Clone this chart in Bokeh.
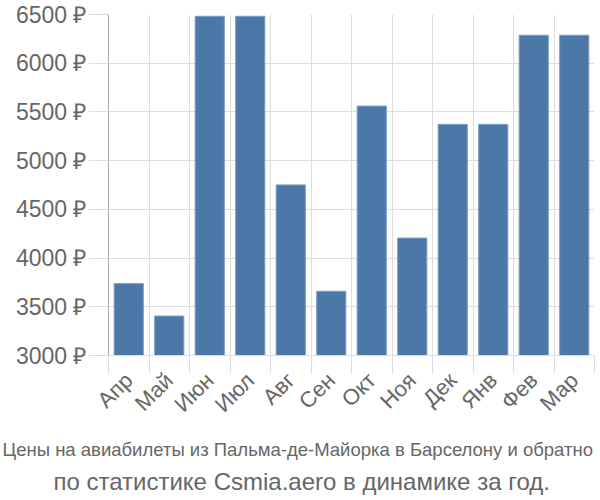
import numpy as np
from math import pi
from bokeh.plotting import figure
from bokeh.models import Range1d, FixedTicker, PrintfTickFormatter, Title
from bokeh.embed import file_html
from bokeh.resources import INLINE

months = ["Апр", "Май", "Июн", "Июл", "Авг", "Сен", "Окт", "Ноя", "Дек", "Янв", "Фев", "Мар"]
prices = [3738, 3405, 6482, 6482, 4751, 3659, 5560, 4205, 5372, 5372, 6287, 6287]
y_ticks = [3000, 3500, 4000, 4500, 5000, 5500, 6000, 6500]
title_line1 = "Цены на авиабилеты из Пальма-де-Майорка в Барселону и обратно"
title_line2 = "по статистике Csmia.aero в динамике за год."

TEXT = "#666666"
GRID = "#dddddd"
BAR = "#4c78a8"

n = len(months)
centers = list(np.arange(n) + 0.5)
bounds = list(np.arange(n + 1).astype(float))

p = figure(width=600, height=500, output_backend="svg", toolbar_location=None,
           x_range=Range1d(0, n), y_range=Range1d(3000, 6500),
           min_border_left=108, min_border_right=6, min_border_top=14, min_border_bottom=145)
p.outline_line_color = None
p.background_fill_color = "white"

p.vbar(x=centers, top=prices, bottom=3000, width=0.72,
       fill_color=BAR, line_color="#7c9cc4", line_width=1)

# y axis
p.yaxis.ticker = FixedTicker(ticks=y_ticks)
p.yaxis.formatter = PrintfTickFormatter(format="%d ₽")
p.yaxis.major_label_text_font = "Liberation Sans"
p.yaxis.major_label_text_font_size = "23px"
p.yaxis.major_label_text_color = TEXT
p.yaxis.major_label_standoff = 2
p.yaxis.major_tick_out = 20
p.yaxis.major_tick_in = 0
p.yaxis.major_tick_line_color = GRID
p.yaxis.minor_tick_line_color = None
p.yaxis.axis_line_color = "#aaaaaa"
p.yaxis.axis_line_width = 1

# x axis
p.xaxis.ticker = FixedTicker(ticks=centers, minor_ticks=bounds)
p.xaxis.major_label_overrides = {c: m for c, m in zip(centers, months)}
p.xaxis.major_label_orientation = pi / 4
p.xaxis.major_label_text_font = "Liberation Sans"
p.xaxis.major_label_text_font_size = "22px"
p.xaxis.major_label_text_color = TEXT
p.xaxis.major_tick_line_color = None
p.xaxis.major_tick_out = 0
p.xaxis.major_tick_in = 0
p.xaxis.major_label_standoff = 3
p.xaxis.minor_tick_out = 18
p.xaxis.minor_tick_in = 0
p.xaxis.minor_tick_line_color = GRID
p.xaxis.axis_line_color = GRID

p.xgrid.ticker = FixedTicker(ticks=bounds)
p.xgrid.grid_line_color = GRID
p.ygrid.ticker = FixedTicker(ticks=y_ticks)
p.ygrid.grid_line_color = GRID

t1 = Title(text=title_line1, align="left", offset=-106, standoff=16,
           text_font="Liberation Sans", text_font_size="18.5px",
           text_font_style="normal", text_color=TEXT)
t2 = Title(text=title_line2, align="left", offset=-55, standoff=-4,
           text_font="Liberation Sans", text_font_size="24px",
           text_font_style="normal", text_color=TEXT)
p.add_layout(t1, "below")
p.add_layout(t2, "below")

open("out.html", "w").write(file_html(p, INLINE))
